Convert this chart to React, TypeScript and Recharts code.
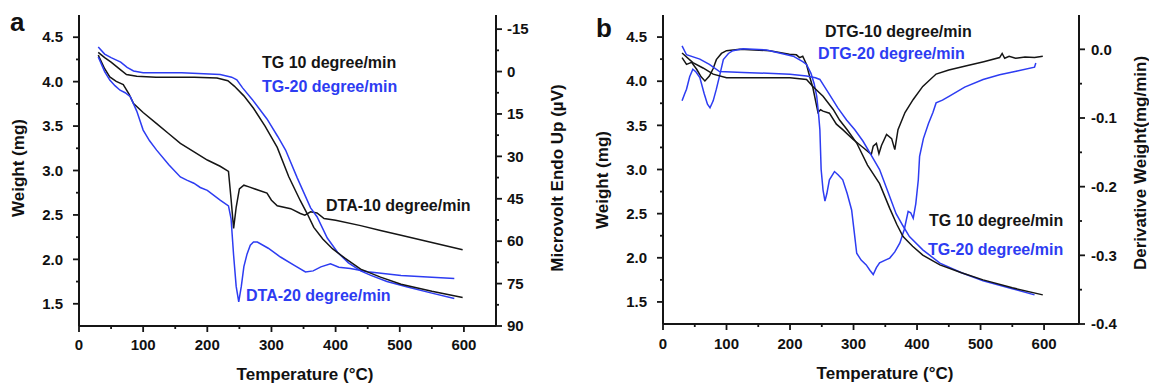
import React from "react";
import { LineChart, Line, XAxis, YAxis } from "recharts";

type Pt = [number, number];

// panel a: TG weight (mg) and DTA signal (µV) vs temperature (°C)
const aTg10: Pt[] = [
  [30, 4.33], [40, 4.27], [50, 4.22], [62, 4.15], [74, 4.08], [90, 4.06], [120, 4.05], [180, 4.05],
  [215, 4.04], [232, 4.01], [242, 3.95], [257, 3.84], [272, 3.7], [290, 3.5], [309, 3.26], [327, 2.93],
  [345, 2.66], [356, 2.51], [366, 2.36], [380, 2.23], [395, 2.12], [415, 2.01], [439, 1.89], [470, 1.8],
  [502, 1.72], [550, 1.64], [598, 1.57],
];
const aTg20: Pt[] = [
  [30, 4.39], [40, 4.31], [50, 4.27], [65, 4.22], [75, 4.16], [85, 4.12], [100, 4.1], [160, 4.1],
  [220, 4.08], [238, 4.05], [246, 4.02], [255, 3.93], [270, 3.8], [293, 3.58], [310, 3.38], [322, 3.23],
  [340, 2.92], [361, 2.58], [371, 2.48], [387, 2.24], [403, 2.08], [420, 1.96], [439, 1.87], [455, 1.82],
  [480, 1.75], [512, 1.69], [550, 1.62], [585, 1.56],
];
const aDta10: Pt[] = [
  [30, -5.8], [40, -1], [48, 1.9], [58, 3.5], [69, 4.6], [78, 8], [85, 11.3], [100, 14.5], [121, 18.4],
  [140, 22], [158, 25.4], [180, 28.5], [200, 31.3], [220, 33.5], [233, 35.3], [237, 45], [241, 55.5],
  [245, 48], [250, 41.5], [257, 40.2], [265, 40.8], [280, 42], [293, 43], [300, 45.5], [309, 47.5],
  [330, 48.5], [345, 50.2], [352, 50.8], [361, 49.6], [371, 50], [382, 52], [400, 52.6], [439, 54.5],
  [470, 56.2], [502, 57.9], [550, 60.5], [598, 63],
];
const aDta20: Pt[] = [
  [30, -5.2], [40, 0], [48, 3], [56, 5], [64, 6.6], [72, 7.5], [80, 8.9], [90, 14], [100, 20.7],
  [110, 24.5], [121, 27.8], [140, 33], [158, 37.3], [168, 38.4], [179, 39.5], [189, 41], [200, 42],
  [220, 45.5], [233, 47.5], [237, 52], [241, 65], [245, 76], [249, 81.5], [253, 76], [257, 69],
  [262, 64.5], [267, 61.4], [272, 60.3], [278, 60.3], [295, 62.5], [314, 65.6], [335, 68.5], [353, 70.9],
  [365, 70.5], [377, 69.1], [392, 68], [405, 69.2], [423, 69.7], [450, 70.8], [502, 72.1], [550, 72.8],
  [585, 73.2],
];

// panel b: TG weight (mg) and DTG (mg/min) vs temperature (°C)
const bTg10: Pt[] = [
  [30, 4.32], [47, 4.21], [63, 4.15], [79, 4.08], [100, 4.04], [150, 4.04], [200, 4.04], [226, 4.02],
  [236, 3.94], [252, 3.83], [268, 3.68], [278, 3.56], [290, 3.45], [305, 3.3], [322, 3.05], [341, 2.84],
  [357, 2.56], [368, 2.38], [378, 2.24], [393, 2.13], [409, 2.03], [436, 1.92], [470, 1.83], [504, 1.75],
  [550, 1.66], [598, 1.58],
];
const bTg20: Pt[] = [
  [30, 4.4], [37, 4.3], [58, 4.25], [73, 4.19], [89, 4.11], [126, 4.1], [200, 4.08], [226, 4.06],
  [240, 4.04], [247, 4.02], [255, 3.93], [262, 3.85], [275, 3.7], [289, 3.56], [302, 3.45], [315, 3.32],
  [328, 3.16], [341, 3.0], [355, 2.73], [367, 2.5], [378, 2.36], [388, 2.24], [409, 2.09], [436, 1.94],
  [470, 1.83], [504, 1.74], [550, 1.65], [585, 1.58],
];
const bDtg10: Pt[] = [
  [30, -0.012], [37, -0.022], [45, -0.019], [53, -0.029], [60, -0.04], [66, -0.046], [73, -0.039],
  [79, -0.028], [84, -0.015], [92, -0.006], [100, -0.002], [121, 0], [168, -0.002], [199, -0.007],
  [210, -0.008], [215, -0.012], [220, -0.01], [226, -0.022], [231, -0.04], [236, -0.056], [244, -0.092],
  [248, -0.088], [252, -0.09], [262, -0.093], [273, -0.109], [283, -0.117], [299, -0.131], [315, -0.143],
  [328, -0.153], [331, -0.141], [336, -0.137], [340, -0.152], [344, -0.14], [352, -0.124], [360, -0.13],
  [365, -0.146], [370, -0.117], [381, -0.092], [394, -0.073], [409, -0.054], [430, -0.036], [450, -0.03],
  [478, -0.024], [505, -0.018], [530, -0.012], [534, -0.006], [538, -0.013], [545, -0.01], [555, -0.013],
  [570, -0.011], [585, -0.012], [598, -0.01],
];
const bDtg20: Pt[] = [
  [30, -0.075], [34, -0.065], [37, -0.058], [42, -0.04], [47, -0.029], [52, -0.033], [58, -0.041],
  [65, -0.065], [70, -0.08], [74, -0.085], [79, -0.075], [84, -0.058], [90, -0.035], [95, -0.015],
  [103, -0.006], [110, -0.002], [126, 0.001], [163, -0.001], [205, -0.01], [220, -0.018], [226, -0.022],
  [233, -0.035], [238, -0.05], [242, -0.068], [245, -0.095], [247, -0.117], [249, -0.175], [252, -0.205],
  [255, -0.221], [258, -0.21], [262, -0.19], [270, -0.178], [276, -0.183], [283, -0.19], [290, -0.21],
  [297, -0.234], [301, -0.265], [305, -0.297], [312, -0.307], [320, -0.314], [326, -0.322], [331, -0.328],
  [336, -0.318], [341, -0.311], [350, -0.307], [357, -0.304], [365, -0.295], [373, -0.282], [380, -0.262],
  [386, -0.236], [390, -0.238], [394, -0.246], [398, -0.225], [402, -0.19], [404, -0.156], [410, -0.13],
  [418, -0.108], [425, -0.092], [430, -0.078], [440, -0.074], [451, -0.068], [475, -0.055], [504, -0.044],
  [530, -0.037], [556, -0.032], [585, -0.026], [587, -0.02],
];

// tick values (majors get labels, the rest are minor ticks)
const tempTicks = [0, 50, 100, 150, 200, 250, 300, 350, 400, 450, 500, 550, 600];
const weightTicks = [1.5, 1.75, 2, 2.25, 2.5, 2.75, 3, 3.25, 3.5, 3.75, 4, 4.25, 4.5];
const uvTicks = [-15, -7.5, 0, 7.5, 15, 22.5, 30, 37.5, 45, 52.5, 60, 67.5, 75, 82.5, 90];
const derivTicks = [-0.4, -0.35, -0.3, -0.25, -0.2, -0.15, -0.1, -0.05, 0];

const BLACK = "#151515";
const BLUE = "#2d3cf2";
const FONT = "'Liberation Sans', Arial, sans-serif";

const rows = (pts: Pt[]) => pts.map(([t, v]) => ({ t, v }));
const near = (v: number, step: number) => Math.abs(v / step - Math.round(v / step)) < 1e-6;

const tickText = { fontFamily: FONT, fontSize: 15, fontWeight: 700, fill: "#111" };

function makeTick(side: "left" | "right" | "bottom", gap: number, isMajor: (v: number) => boolean, fmt: (v: number) => string) {
  return (props: any) => {
    const { x, y, payload } = props;
    const v = payload.value as number;
    const major = isMajor(v);
    const len = major ? 6 : 3;
    if (side === "left") {
      const ax = x + gap;
      return (
        <g>
          <line x1={ax - len} x2={ax} y1={y} y2={y} stroke={BLACK} strokeWidth={1.8} />
          {major && <text x={x} y={y} dy="0.35em" textAnchor="end" style={tickText}>{fmt(v)}</text>}
        </g>
      );
    }
    if (side === "right") {
      const ax = x - gap;
      return (
        <g>
          <line x1={ax} x2={ax + len} y1={y} y2={y} stroke={BLACK} strokeWidth={1.8} />
          {major && <text x={x} y={y} dy="0.35em" textAnchor="start" style={tickText}>{fmt(v)}</text>}
        </g>
      );
    }
    const ay = y - gap;
    return (
      <g>
        <line x1={x} x2={x} y1={ay} y2={ay + len} stroke={BLACK} strokeWidth={1.8} />
        {major && <text x={x} y={y} dy="0.72em" textAnchor="middle" style={tickText}>{fmt(v)}</text>}
      </g>
    );
  };
}

const axisLine = { stroke: BLACK, strokeWidth: 2 };
const fmtWeight = (v: number) => v.toFixed(1);
const fmtInt = (v: number) => String(v);
const fmtDeriv = (v: number) => v.toFixed(1);

function PanelA() {
  return (
    <LineChart width={574} height={384} margin={{ top: 15, right: 0, bottom: 0, left: 0 }}>
      <XAxis xAxisId="t" dataKey="t" type="number" domain={[0, 650]} ticks={tempTicks} interval={0}
        height={58} tickSize={6} tickMargin={7} tickLine={false} axisLine={axisLine}
        tick={makeTick("bottom", 13, (v) => near(v, 100), fmtInt)} />
      <XAxis xAxisId="top" orientation="top" type="number" domain={[0, 650]} height={0}
        tick={false} tickLine={false} axisLine={{ stroke: "#444", strokeWidth: 1.5 }} />
      <YAxis yAxisId="w" type="number" domain={[1.25, 4.75]} ticks={weightTicks} interval={0}
        width={79} tickSize={6} tickMargin={10} tickLine={false} axisLine={axisLine}
        tick={makeTick("left", 16, (v) => near(v, 0.5), fmtWeight)} />
      <YAxis yAxisId="uv" orientation="right" reversed type="number" domain={[-20, 90]} ticks={uvTicks} interval={0}
        width={78} tickSize={6} tickMargin={5} tickLine={false} axisLine={axisLine}
        tick={makeTick("right", 11, (v) => near(v, 15), fmtInt)} />
      <Line data={rows(aDta10)} dataKey="v" xAxisId="t" yAxisId="uv" type="linear" stroke={BLACK} strokeWidth={1.5} dot={false} isAnimationActive={false} />
      <Line data={rows(aDta20)} dataKey="v" xAxisId="t" yAxisId="uv" type="linear" stroke={BLUE} strokeWidth={1.5} dot={false} isAnimationActive={false} />
      <Line data={rows(aTg20)} dataKey="v" xAxisId="t" yAxisId="w" type="linear" stroke={BLUE} strokeWidth={1.5} dot={false} isAnimationActive={false} />
      <Line data={rows(aTg10)} dataKey="v" xAxisId="t" yAxisId="w" type="linear" stroke={BLACK} strokeWidth={1.5} dot={false} isAnimationActive={false} />
    </LineChart>
  );
}

function PanelB() {
  return (
    <LineChart width={575} height={384} margin={{ top: 15, right: 0, bottom: 0, left: 0 }}>
      <XAxis xAxisId="t" dataKey="t" type="number" domain={[0, 655]} ticks={tempTicks} interval={0}
        height={60} tickSize={6} tickMargin={8} tickLine={false} axisLine={axisLine}
        tick={makeTick("bottom", 14, (v) => near(v, 100), fmtInt)} />
      <XAxis xAxisId="top" orientation="top" type="number" domain={[0, 655]} height={0}
        tick={false} tickLine={false} axisLine={{ stroke: "#777", strokeWidth: 1.5 }} />
      <YAxis yAxisId="w" type="number" domain={[1.25, 4.75]} ticks={weightTicks} interval={0}
        width={89} tickSize={6} tickMargin={10} tickLine={false} axisLine={axisLine}
        tick={makeTick("left", 16, (v) => near(v, 0.5), fmtWeight)} />
      <YAxis yAxisId="d" orientation="right" type="number" domain={[-0.4, 0.05]} ticks={derivTicks} interval={0}
        width={70} tickSize={6} tickMargin={6} tickLine={false} axisLine={axisLine}
        tick={makeTick("right", 12, (v) => near(v, 0.1), fmtDeriv)} />
      <Line data={rows(bDtg10)} dataKey="v" xAxisId="t" yAxisId="d" type="linear" stroke={BLACK} strokeWidth={1.5} dot={false} isAnimationActive={false} />
      <Line data={rows(bDtg20)} dataKey="v" xAxisId="t" yAxisId="d" type="linear" stroke={BLUE} strokeWidth={1.5} dot={false} isAnimationActive={false} />
      <Line data={rows(bTg20)} dataKey="v" xAxisId="t" yAxisId="w" type="linear" stroke={BLUE} strokeWidth={1.5} dot={false} isAnimationActive={false} />
      <Line data={rows(bTg10)} dataKey="v" xAxisId="t" yAxisId="w" type="linear" stroke={BLACK} strokeWidth={1.5} dot={false} isAnimationActive={false} />
    </LineChart>
  );
}

const title = { fontFamily: FONT, fontSize: 17, fontWeight: 700, fill: "#111" };
const note = { fontFamily: FONT, fontSize: 16, fontWeight: 700 };

export default function App() {
  return (
    <div style={{ position: "relative", width: 1149, height: 384, background: "#fff" }}>
      <style>{"body{margin:0}"}</style>
      <div style={{ position: "absolute", left: 0, top: 0 }}><PanelA /></div>
      <div style={{ position: "absolute", left: 574, top: 0 }}><PanelB /></div>
      <svg width={1149} height={384} style={{ position: "absolute", left: 0, top: 0, pointerEvents: "none" }}>
        <text x={10} y={31} style={{ ...title, fontSize: 26 }}>a</text>
        <text x={596} y={37} style={{ ...title, fontSize: 26 }}>b</text>

        <text transform="translate(18,168) rotate(-90)" textAnchor="middle" dominantBaseline="central" style={title}>Weight (mg)</text>
        <text transform="translate(557,178) rotate(-90)" textAnchor="middle" dominantBaseline="central" style={title}>Microvolt Endo Up (µV)</text>
        <text x={305} y={380} textAnchor="middle" style={title}>Temperature (°C)</text>

        <text transform="translate(602,180) rotate(-90)" textAnchor="middle" dominantBaseline="central" style={title}>Weight (mg)</text>
        <text transform="translate(1140,163) rotate(-90)" textAnchor="middle" dominantBaseline="central" style={title}>Derivative Weight(mg/min)</text>
        <text x={885} y={379} textAnchor="middle" style={title}>Temperature (°C)</text>

        <text x={262} y={68} style={{ ...note, fill: BLACK }}>TG 10 degree/min</text>
        <text x={262} y={92} style={{ ...note, fill: BLUE }}>TG-20 degree/min</text>
        <text x={326} y={211} style={{ ...note, fill: BLACK }}>DTA-10 degree/min</text>
        <text x={246} y={301} style={{ ...note, fill: BLUE }}>DTA-20 degree/min</text>

        <text x={825} y={37} style={{ ...note, fill: BLACK }}>DTG-10 degree/min</text>
        <text x={818} y={59} style={{ ...note, fill: BLUE }}>DTG-20 degree/min</text>
        <text x={929} y={226} style={{ ...note, fill: BLACK }}>TG 10 degree/min</text>
        <text x={928} y={255} style={{ ...note, fill: BLUE }}>TG-20 degree/min</text>
      </svg>
    </div>
  );
}
